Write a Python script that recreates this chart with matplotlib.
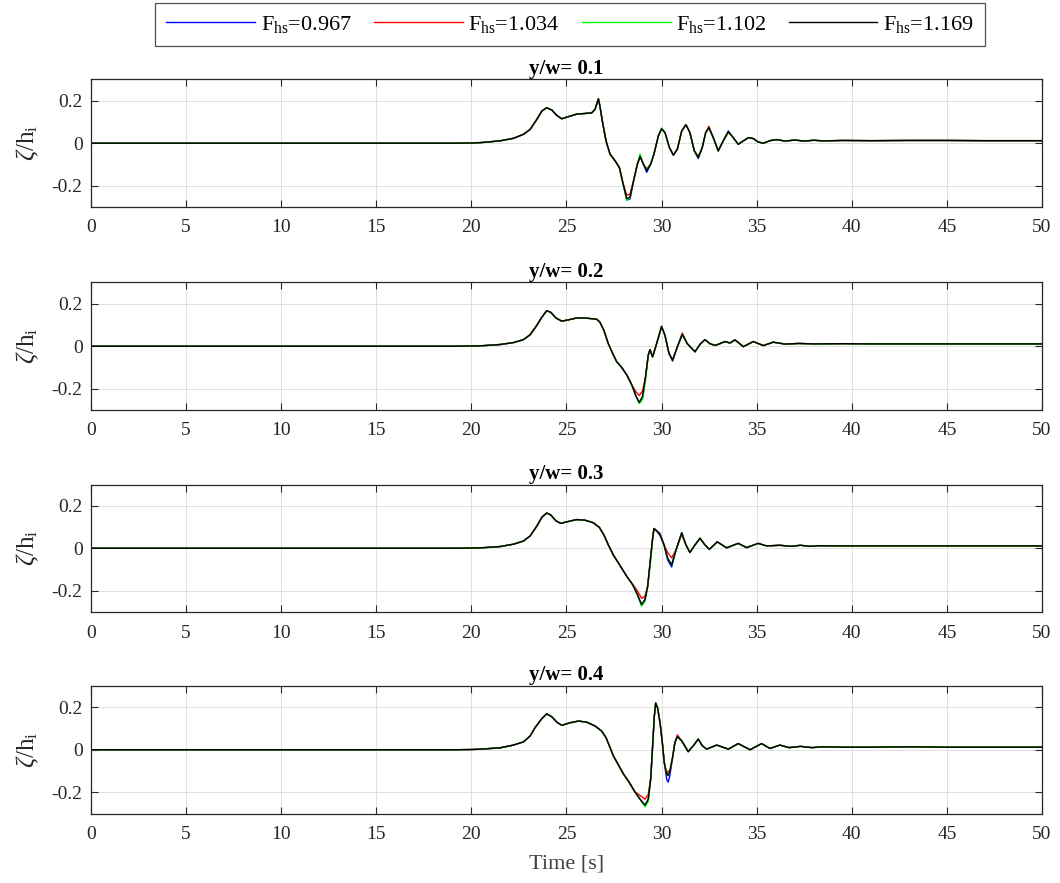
import numpy as np
import matplotlib
matplotlib.use('Agg')
import matplotlib.pyplot as plt

# Fuente tipo Times
plt.rcParams['font.family'] = ['Liberation Serif', 'DejaVu Serif']
plt.rcParams['mathtext.fontset'] = 'custom'
plt.rcParams['mathtext.rm'] = 'Liberation Serif'
plt.rcParams['mathtext.it'] = 'Liberation Serif:italic'
plt.rcParams['mathtext.bf'] = 'Liberation Serif:bold'

# Datos
froude = ['0.967', '1.034', '1.102', '1.169']
colors = ['b', 'r', 'lime', 'k']
titles = ['y/w= 0.1', 'y/w= 0.2', 'y/w= 0.3', 'y/w= 0.4']

# y/w = 0.1  (curva negra = referencia)
t1 = [0, 19, 20, 20.5, 21.5, 22.21, 22.74, 23.09, 23.44, 23.7, 23.96, 24.23,
      24.49, 24.75, 25.1, 25.54, 25.98, 26.33, 26.5, 26.68, 26.76, 26.9, 27.08,
      27.29, 27.55, 27.78, 27.96, 28.17, 28.34, 28.55, 28.73, 28.87, 29.04,
      29.22, 29.43, 29.6, 29.83, 30.0, 30.18, 30.41, 30.62, 30.83, 31.06, 31.28,
      31.49, 31.72, 31.93, 32.14, 32.32, 32.49, 32.72, 32.98, 33.24, 33.51,
      33.77, 34.03, 34.3, 34.56, 34.82, 35.08, 35.35, 35.7, 36.05, 36.5, 37.0,
      37.5, 38.0, 38.5, 39.5, 41, 43, 45, 47, 50]
k1 = [0, 0, 0.001, 0.003, 0.011, 0.023, 0.042, 0.065, 0.112, 0.151, 0.167,
      0.156, 0.131, 0.115, 0.125, 0.137, 0.14, 0.143, 0.159, 0.209, 0.174,
      0.097, 0.011, -0.051, -0.082, -0.114, -0.184, -0.261, -0.254, -0.168,
      -0.098, -0.062, -0.098, -0.129, -0.098, -0.051, 0.034, 0.068, 0.05,
      -0.02, -0.056, -0.028, 0.058, 0.087, 0.05, -0.036, -0.067, -0.02, 0.05,
      0.073, 0.026, -0.036, 0.011, 0.053, 0.026, -0.005, 0.011, 0.026, 0.022,
      0.006, 0.0, 0.012, 0.017, 0.01, 0.015, 0.01, 0.014, 0.011, 0.013, 0.012,
      0.013, 0.013, 0.012, 0.012]
dev1 = {'b': {28.17: -0.268, 28.34: -0.262, 29.22: -0.137, 31.93: -0.072, 33.51: 0.058},
        'r': {28.17: -0.245, 28.34: -0.24, 29.22: -0.12, 32.49: 0.08, 31.93: -0.06},
        'lime': {28.17: -0.27, 28.87: -0.05, 29.22: -0.125, 30.0: 0.072}}

# y/w = 0.2
t2 = [0, 19, 20, 20.5, 21.51, 22.21, 22.74, 23.09, 23.44, 23.7, 23.96, 24.17,
      24.45, 24.75, 25.1, 25.54, 26.06, 26.59, 26.76, 26.97, 27.2, 27.43, 27.64,
      27.9, 28.17, 28.43, 28.66, 28.83, 29.0, 29.16, 29.3, 29.39, 29.53, 29.74,
      30.0, 30.18, 30.39, 30.58, 30.83, 31.09, 31.35, 31.76, 32.02, 32.28,
      32.54, 32.81, 33.07, 33.33, 33.6, 33.86, 34.3, 34.82, 35.35, 35.87, 36.5,
      37.2, 38, 39.5, 41, 43, 45, 47, 50]
k2 = [0, 0, 0.001, 0.002, 0.008, 0.017, 0.031, 0.054, 0.098, 0.136, 0.167,
      0.16, 0.133, 0.118, 0.124, 0.133, 0.132, 0.127, 0.113, 0.074, 0.012,
      -0.034, -0.073, -0.099, -0.135, -0.181, -0.236, -0.264, -0.236, -0.143,
      -0.042, -0.016, -0.05, 0.012, 0.093, 0.051, -0.034, -0.065, -0.003,
      0.056, 0.012, -0.026, 0.009, 0.031, 0.012, 0.004, 0.012, 0.022, 0.015,
      0.03, -0.002, 0.022, 0.003, 0.019, 0.01, 0.013, 0.011, 0.012, 0.011,
      0.011, 0.011, 0.011, 0.011]
dev2 = {'b': {28.83: -0.268, 29.0: -0.245, 30.58: -0.07},
        'r': {28.66: -0.215, 28.83: -0.232, 29.0: -0.21, 31.09: 0.062},
        'lime': {28.83: -0.27, 29.0: -0.25, 29.16: -0.16}}

# y/w = 0.3
t3 = [0, 19, 20, 20.5, 21.51, 22.21, 22.74, 23.09, 23.44, 23.7, 23.96, 24.17,
      24.45, 24.7, 25.1, 25.54, 25.98, 26.41, 26.73, 26.97, 27.2, 27.46, 27.82,
      28.17, 28.48, 28.73, 28.95, 29.13, 29.27, 29.43, 29.53, 29.6, 29.74,
      29.92, 30.13, 30.32, 30.53, 30.76, 31.06, 31.28, 31.49, 31.76, 32.02,
      32.28, 32.51, 32.93, 33.42, 34.03, 34.47, 35.08, 35.52, 36.22, 36.8,
      37.3, 37.8, 38.3, 39.5, 41, 43, 45, 47, 50]
k3 = [0, 0, 0.001, 0.002, 0.008, 0.019, 0.034, 0.058, 0.104, 0.145, 0.166,
      0.157, 0.129, 0.117, 0.126, 0.135, 0.132, 0.12, 0.098, 0.062, 0.016,
      -0.031, -0.082, -0.132, -0.171, -0.218, -0.264, -0.241, -0.179, -0.039,
      0.047, 0.093, 0.082, 0.062, 0.016, -0.047, -0.078, -0.008, 0.073, 0.016,
      -0.02, 0.016, 0.047, 0.016, -0.005, 0.03, 0.002, 0.023, 0.003, 0.023,
      0.011, 0.014, 0.009, 0.014, 0.009, 0.012, 0.011, 0.011, 0.011, 0.011,
      0.011, 0.011]
dev3 = {'b': {28.95: -0.27, 29.92: 0.07, 30.32: -0.055, 30.53: -0.088},
        'r': {28.73: -0.2, 28.95: -0.236, 29.13: -0.225, 30.32: -0.02, 30.53: -0.045, 31.06: 0.065},
        'lime': {28.95: -0.272, 29.13: -0.25, 29.43: -0.06, 29.6: 0.085}}

# y/w = 0.4
t4 = [0, 19, 20, 20.5, 21.51, 22.21, 22.74, 23.09, 23.35, 23.7, 23.96, 24.23,
      24.49, 24.75, 25.19, 25.63, 26.06, 26.5, 26.85, 27.08, 27.29, 27.46,
      27.73, 27.99, 28.31, 28.6, 28.87, 29.13, 29.3, 29.43, 29.53, 29.62, 29.69,
      29.79, 29.92, 30.04, 30.14, 30.27, 30.35, 30.44, 30.58, 30.7, 30.83,
      31.06, 31.4, 31.67, 31.93, 32.14, 32.37, 32.9, 33.51, 34.03, 34.65,
      35.26, 35.7, 36.22, 36.7, 37.3, 37.9, 38.5, 39.5, 41, 43, 45, 47, 50]
k4 = [0, 0, 0.001, 0.003, 0.009, 0.022, 0.037, 0.065, 0.104, 0.146, 0.169,
      0.155, 0.13, 0.115, 0.127, 0.135, 0.13, 0.112, 0.088, 0.057, 0.011,
      -0.028, -0.071, -0.113, -0.155, -0.198, -0.233, -0.26, -0.233, -0.136,
      0.019, 0.158, 0.22, 0.197, 0.127, 0.034, -0.059, -0.113, -0.121, -0.098,
      -0.036, 0.034, 0.062, 0.042, -0.009, 0.019, 0.05, 0.019, 0.003, 0.022,
      0.003, 0.029, 0.0, 0.029, 0.006, 0.022, 0.01, 0.016, 0.01, 0.014, 0.012,
      0.012, 0.014, 0.012, 0.012, 0.012]
dev4 = {'b': {29.13: -0.265, 30.27: -0.14, 30.35: -0.152, 30.44: -0.12},
        'r': {28.87: -0.215, 29.13: -0.233, 29.3: -0.21, 30.35: -0.1, 30.83: 0.07},
        'lime': {29.13: -0.268, 29.3: -0.245, 30.35: -0.12}}

panels = [(t1, k1, dev1), (t2, k2, dev2), (t3, k3, dev3), (t4, k4, dev4)]


def serie(t, base, cambios):
    y = list(base)
    for tt, vv in cambios.items():
        y[t.index(tt)] = vv
    return y


fig = plt.figure(figsize=(10.6, 8.83), dpi=100)
gris = '#262626'

bottoms = [0.7656, 0.5357, 0.3069, 0.0787]
handles = []
for i, (t, k, dev) in enumerate(panels):
    assert len(t) == len(k)
    ax = fig.add_axes([0.0858, bottoms[i], 0.8972, 0.1444])
    for c, f in zip(colors, froude):
        y = k if c == 'k' else serie(t, k, dev[c])
        ln, = ax.plot(t, y, color=c, lw=1.0,
                      label=r'F$_\mathregular{hs}$=' + f)
        if i == 0:
            handles.append(ln)
    ax.set_xlim(0, 50)
    ax.set_ylim(-0.3, 0.3)
    ax.set_xticks(np.arange(0, 51, 5))
    ax.set_yticks([-0.2, 0, 0.2])
    ax.set_yticklabels(['-0.2', '0', '0.2'])
    ax.grid(True, color='#e0e0e0', lw=0.7)
    ax.set_axisbelow(True)
    ax.tick_params(direction='in', top=True, right=True, length=5,
                   labelsize=14, colors=gris, pad=6)
    ax.tick_params(axis='x', pad=9)
    for s in ax.spines.values():
        s.set_color(gris)
        s.set_linewidth(0.9)
    ax.set_title(titles[i], fontsize=15, fontweight='bold', pad=4)
    ax.set_ylabel(r'$\zeta$/h$_\mathregular{i}$', fontsize=18, color=gris,
                  labelpad=8)
    if i == 3:
        ax.set_xlabel('Time [s]', fontsize=16, color='#404040', labelpad=8)

leg = fig.legend(handles=handles, loc='upper center', ncol=4,
                 bbox_to_anchor=(0.5377, 0.9966), borderaxespad=0,
                 fontsize=16, frameon=True, fancybox=False, edgecolor=gris,
                 handlelength=4.0, columnspacing=1.0, handletextpad=0.25,
                 borderpad=0.5)
leg.get_frame().set_linewidth(0.9)

fig.savefig('out.png', dpi=100)
